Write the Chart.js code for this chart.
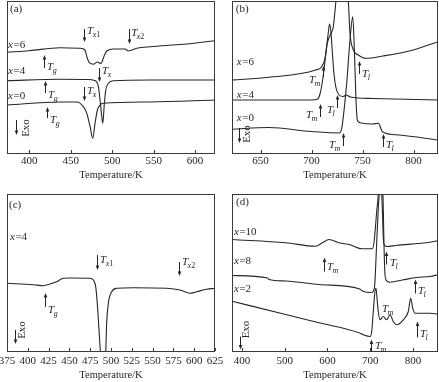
<!DOCTYPE html>
<html><head><meta charset="utf-8">
<script src="https://cdn.jsdelivr.net/npm/chart.js@4"></script>
<style>
html,body{margin:0;padding:0;background:#fff;width:439px;height:382px;overflow:hidden}
canvas{position:absolute;left:0;top:0}
</style></head><body>
<canvas id="ca" width="439" height="382"></canvas>
<canvas id="cb" width="439" height="382"></canvas>
<canvas id="cc" width="439" height="382"></canvas>
<canvas id="cd" width="439" height="382"></canvas>
<script>
// ---------- data: [temperature K, heat-flow signal (arb. units)] ----------
const ticksA = [400, 450, 500, 550, 600];
const ticksB = [650, 700, 750, 800];
const ticksC = [375, 400, 425, 450, 475, 500, 525, 550, 575, 600, 625];
const ticksD = [400, 500, 600, 700, 800];

const a_x6 = [[373,101.7],[400,103.3],[437,106.3],[461,105.7],[467,104],[469.3,97.3],[472.4,91.3],[477.2,89.7],[482.1,92],[486.2,90.5],[490.2,98],[493.4,103],[501.4,105],[515.5,105],[519.5,103],[529.6,105.7],[545.7,107.3],[585.5,109.7],[624,113.3]];
const a_x4 = [[373,73.3],[437,74.7],[470,74.5],[479.3,73.3],[483.3,67.3],[485.3,54],[487.4,37.3],[488.6,30.7],[490.5,50.7],[492.2,64],[495.4,70.7],[501.4,73.3],[546,74],[624,74]];
const a_x0 = [[373,49],[437,52],[457,52],[465.2,47.3],[469.3,40.7],[473.3,27.3],[476.5,15.7],[479.3,31],[482.1,44],[485.3,49],[489.3,50.7],[546,52],[624,54]];

const b_x6 = [[622,74],[658,76.7],[704,84],[710,87.3],[713.2,95.7],[715.4,110.7],[719.7,122],[721.3,127],[724,154],[727,185],[730,200],[733,185],[736,154],[737.7,120.7],[741,104],[745.9,99],[753,95.7],[770,98],[800,104],[824,112.3]];
const b_x4 = [[622,54],[700,54],[706,55],[708.3,60],[711,75],[714,100],[716.5,122],[717.6,130],[719,122],[720.5,100],[722,80],[724,66],[727,59],[731,57.5],[734,59],[738,57],[760,55.5],[824,54]];
const b_x0 = [[622,24.7],[658,26.5],[700,22.5],[727,21],[729.6,25.7],[732,45],[734.5,71],[737.7,114],[740.4,137.3],[742,104],[743.6,54],[744.9,34],[747.5,31.3],[760,30],[765.5,30.7],[769.5,22.3],[785.8,19],[824,14]];

const c_x4 = [[375,68.7],[406.6,67.3],[418.6,66.3],[426.7,68],[434.7,70.3],[442.7,73.7],[450.7,74],[474.8,73.7],[478.7,72],[481.6,65.3],[483.5,48.7],[485.6,22],[487.6,-5],[490.5,-40],[493.5,-5],[494.8,29],[496.8,48.7],[500.8,60.3],[506.9,63.7],[526.8,64.3],[567,63.7],[583,62],[595,58.7],[603,60.3],[615,62.7],[625,63.7]];

const d_x10 = [[376.6,112.5],[502,109.2],[572,105.8],[588,109.2],[603.5,112.5],[627,109.2],[653,107.2],[681,103.2],[705,103.2],[709,110.5],[715.1,140.5],[718.8,158],[722.8,200],[726.8,158],[729.1,133.8],[730.5,113.8],[732.9,107.2],[738.5,105.5],[761,106.5],[840,109.8],[858.5,111.2]];
const d_x8 = [[376.6,76.5],[460,74],[463,72.5],[502,71],[580,67.5],[674,63.2],[684,60.5],[703.4,59.5],[709.5,63.8],[711,70],[713.5,93.8],[718.8,143.8],[721.2,160],[725,210],[729.8,158],[732,110],[734.5,77.2],[738.5,71.2],[746.2,69.8],[777,72.2],[808.7,74.5],[839.8,75.5],[858.5,77.2]];
const d_x2 = [[376.6,50.8],[502,37.5],[580,29.2],[673.7,19.2],[683.7,17.2],[699.4,15.5],[703.4,20.5],[707.1,40.5],[711.1,60.5],[713.5,63.8],[716.5,50.5],[718.8,40.5],[722.8,32.2],[730.5,35.5],[738.5,32.2],[746.2,37.2],[753.9,30.5],[761.9,27.2],[777.3,32.2],[789,40.5],[794.6,53.8],[799.3,43.8],[804.7,38.8],[839.8,38.8],[858.5,37.8]];

// ---------- annotations (data coordinates) ----------
const labelsA = [['(a)',376.7,145],['x=6',374.3,109],['x=4',374.3,83],['x=0',374.3,58],['T_g',421.4,87],['T_g',422.6,59],['T_g',425,34],['T_x1',469.6,123],['T_x2',522.8,121],['T_x',487.7,83],['T_x',469.6,63],['EXO',396,26]];
const arrowsA = [[417.7,86,99],[419,61,73],[421.4,36,47],[466,125,112],[520.3,125,110],[484.2,86,72],[466,67,53],[384,34,19]];
const labelsB = [['(b)',625.7,145],['x=6',626.7,92],['x=4',626.7,59],['x=0',626.7,36],['T_m',697.4,74],['T_l',749.5,80],['T_m',694.5,39],['T_l',715.1,44],['T_m',717,9],['T_l',773,9],['EXO',636.5,20]];
const arrowsB = [[628.7,26,11],[710.9,77,88],[746.6,80,93],[708.3,37,50],[724.7,46,59],[730.5,8,21],[770.1,7,20]];
const labelsC = [['(c)',377.4,147],['x=4',378.6,115],['T_x1',486.8,92],['T_x2',585.3,90],['T_g',424.3,42],['EXO',393,22]];
const arrowsC = [[483.2,97,82],[581.7,90,76],[420.7,45,59],[384.6,22,8]];
const labelsD = [['(d)',386,149.5],['x=10',381.3,119.5],['x=8',381.3,90.5],['x=2',381.3,62.5],['T_m',598.8,84.5],['T_l',746.2,88.5],['T_l',811.7,60.5],['T_m',727.5,42.5],['T_l',816.4,17.5],['T_m',711.1,5.5],['EXO',409.4,22.5]];
const arrowsD = [[591.8,80.5,94.5],[736.8,87.5,100.5],[804.7,58.5,72.5],[809.4,14.5,30.5],[701.8,0.5,12.5],[395.3,15.5,2.5]];

const FONT = '"Liberation Serif","Times New Roman",serif';
const INK = '#262626';

function drawLabel(ctx, txt, x, y) {
  ctx.fillStyle = INK;
  ctx.textBaseline = 'middle';
  ctx.textAlign = 'left';
  if (txt === 'EXO') {
    ctx.save(); ctx.translate(x, y); ctx.rotate(-Math.PI/2);
    ctx.textAlign = 'center'; ctx.font = '11px ' + FONT;
    ctx.fillText('Exo', 0, 0); ctx.restore(); return;
  }
  if (txt.startsWith('x=')) {
    ctx.font = 'italic 11px ' + FONT; ctx.fillText('x', x, y);
    const w = ctx.measureText('x').width;
    ctx.font = '11px ' + FONT; ctx.fillText(txt.slice(1), x + w + 0.5, y); return;
  }
  if (txt.startsWith('T_')) {
    ctx.font = 'italic 11px ' + FONT; ctx.fillText('T', x, y);
    let cx = x + ctx.measureText('T').width - 0.5;
    for (const ch of txt.slice(2)) {
      ctx.font = (/[0-9]/.test(ch) ? '' : 'italic ') + '8px ' + FONT;
      ctx.fillText(ch, cx, y + 3.5);
      cx += ctx.measureText(ch).width;
    }
    return;
  }
  ctx.font = '11px ' + FONT; ctx.fillText(txt, x, y);
}

function drawArrow(ctx, x, y0, y1) {
  ctx.strokeStyle = INK; ctx.fillStyle = INK; ctx.lineWidth = 1;
  const xx = Math.round(x) + 0.5;
  const dir = y1 > y0 ? 1 : -1;
  ctx.beginPath(); ctx.moveTo(xx, y0); ctx.lineTo(xx, y1 - dir * 3); ctx.stroke();
  ctx.beginPath(); ctx.moveTo(xx, y1); ctx.lineTo(xx - 1.8, y1 - dir * 4.5); ctx.lineTo(xx + 1.8, y1 - dir * 4.5); ctx.closePath(); ctx.fill();
}

function panelPlugin(labels, arrows, ticks) {
  return {
    id: 'panel',
    afterDraw(chart) {
      const {ctx, chartArea: a, scales: {x, y}} = chart;
      ctx.save();
      ctx.strokeStyle = '#3a3a3a'; ctx.lineWidth = 1;
      ctx.strokeRect(Math.round(a.left) + 0.5, Math.round(a.top) + 0.5, Math.round(a.right - a.left) - 1, Math.round(a.bottom - a.top) - 1);
      ctx.beginPath();
      for (const t of ticks) {
        const px = Math.round(x.getPixelForValue(t)) + 0.5;
        ctx.moveTo(px, a.bottom - 1); ctx.lineTo(px, a.bottom - 4);
      }
      ctx.stroke();
      for (const [vx, v0, v1] of arrows) drawArrow(ctx, x.getPixelForValue(vx), y.getPixelForValue(v0), y.getPixelForValue(v1));
      for (const [t, vx, vy] of labels) drawLabel(ctx, t, x.getPixelForValue(vx), y.getPixelForValue(vy));
      ctx.restore();
    }
  };
}

function makeChart(id, series, xmin, xmax, ymax, ticks, pad, xh, tickPad, titleBottom, labels, arrows) {
  return new Chart(document.getElementById(id), {
    type: 'line',
    data: { datasets: series.map(s => ({
      data: s.map(p => ({x: p[0], y: p[1]})),
      borderColor: INK, borderWidth: 1.1, pointRadius: 0,
      cubicInterpolationMode: 'monotone', fill: false
    })) },
    options: {
      responsive: false, animation: false, devicePixelRatio: 1,
      layout: { padding: pad },
      plugins: { legend: {display: false}, tooltip: {enabled: false} },
      scales: {
        x: {
          type: 'linear', min: xmin, max: xmax,
          grid: {display: false, drawTicks: false}, border: {display: false},
          afterBuildTicks: s => { s.ticks = ticks.map(v => ({value: v})); },
          afterFit: s => { s.height = xh; s.paddingLeft = 0; s.paddingRight = 0; },
          ticks: {font: {family: FONT, size: 11}, color: INK, padding: tickPad, maxRotation: 0, autoSkip: false},
          title: {display: true, text: 'Temperature/K', font: {family: FONT, size: 10.5}, color: INK, padding: {top: 0, bottom: titleBottom}}
        },
        y: { display: false, min: 0, max: ymax }
      }
    },
    plugins: [panelPlugin(labels, arrows, ticks)]
  });
}

makeChart('ca', [a_x6, a_x4, a_x0], 373, 624, 153, ticksA, {left: 7, right: 224, top: 1, bottom: 192}, 36, 1, 8.2, labelsA, arrowsA);
makeChart('cb', [b_x6, b_x4, b_x0], 622, 824, 153, ticksB, {left: 232, right: 1, top: 1, bottom: 192}, 36, 1, 8.2, labelsB, arrowsB);
makeChart('cc', [c_x4], 375, 625, 158, ticksC, {left: 7, right: 224, top: 194, bottom: 0}, 30, 3, 0.7, labelsC, arrowsC);
makeChart('cd', [d_x10, d_x8, d_x2], 376.6, 858.5, 158, ticksD, {left: 232, right: 1, top: 194, bottom: 0}, 30, 3, 0.7, labelsD, arrowsD);
</script>
</body></html>
